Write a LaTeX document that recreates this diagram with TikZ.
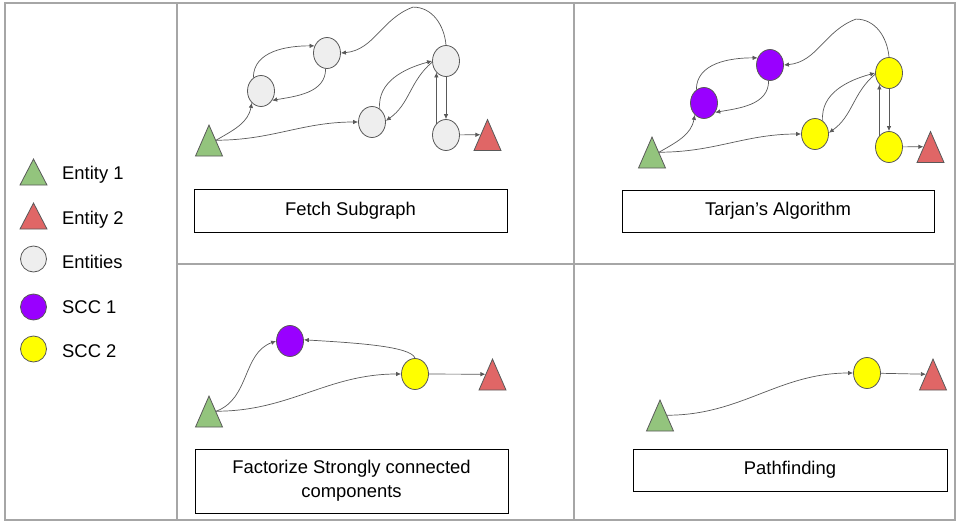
\documentclass[tikz,border=0pt]{standalone}
\usepackage{fontspec}
\setmainfont{Liberation Sans}
\usetikzlibrary{shapes.geometric,arrows.meta}

\definecolor{framegray}{HTML}{A6A6A6}
\definecolor{edgegray}{HTML}{595959}
\definecolor{entgray}{HTML}{EEEEEE}
\definecolor{sccone}{HTML}{9900FF}
\definecolor{scctwo}{HTML}{FFFF00}
\definecolor{entone}{HTML}{93C47D}
\definecolor{enttwo}{HTML}{E06666}

\tikzset{
  tri/.style={isosceles triangle, isosceles triangle stretches, shape border rotate=90, anchor=apex,
    minimum width=27pt, minimum height=31pt, inner sep=0pt, draw=edgegray, line width=0.8pt},
  blob/.style={ellipse, minimum width=27pt, minimum height=31pt, inner sep=0pt, draw=edgegray, line width=0.8pt},
  entdot/.style={circle, minimum size=26pt, inner sep=0pt, draw=edgegray, line width=0.8pt},
  conn/.style={draw=edgegray, line width=0.7pt, -{Latex[length=5pt,width=4.5pt]}},
  capbox/.style={draw, line width=1pt, minimum width=313pt, align=center},
  legtext/.style={anchor=base west, inner sep=0pt}
}

\begin{document}
\begin{tikzpicture}[x=1pt,y=1pt,font=\fontsize{18.4}{24}\selectfont]
\useasboundingbox (0,0) rectangle (960,-524);
\draw[framegray,line width=1.2pt] (5,-3) rectangle (955,-520);
\draw[framegray,line width=1.2pt] (177,-3) -- (177,-520) (574,-3) -- (574,-520) (177,-264) -- (955,-264);

\node[tri,fill=entone,minimum height=26pt] (leg1) at (33.5,-158) {};
\node[tri,fill=enttwo,minimum height=26pt] (leg2) at (33.5,-202) {};
\node[entdot,fill=entgray] (leg3) at (33.5,-259) {};
\node[entdot,fill=sccone] (leg4) at (33.5,-307) {};
\node[entdot,fill=scctwo] (leg5) at (33.5,-349) {};
\node[legtext] at (62,-179.3) {Entity 1};
\node[legtext] at (62,-224) {Entity 2};
\node[legtext] at (62,-268.3) {Entities};
\node[legtext] at (62,-313.3) {SCC 1};
\node[legtext] at (62,-357.3) {SCC 2};

\foreach \p/\dx/\dy/\ca/\cb in {1/0/0/entgray/entgray, 2/443/-12/sccone/scctwo}{
\begin{scope}[shift={(\dx,\dy)}]
\node[tri,fill=entone] (g\p) at (209,-124) {};
\node[blob,fill=\ca] (a\p) at (261,-91) {};
\node[blob,fill=\ca] (b\p) at (327,-53) {};
\node[blob,fill=\cb] (c\p) at (372,-122) {};
\node[blob,fill=\cb] (d\p) at (446,-61) {};
\node[blob,fill=\cb] (e\p) at (446,-135) {};
\node[tri,fill=enttwo] (r\p) at (487.5,-118.5) {};
\draw[conn] (g\p.right side) to[out=30,in=-100] (a\p.232);
\draw[conn] (g\p.right side) to[out=0,in=180] (c\p.west);
\draw[conn] (a\p.120) to[out=90,in=180] (b\p.150);
\draw[conn] (b\p.265) to[out=-90,in=10] (a\p.-40);
\draw[conn] (d\p.north) to[out=95,in=0] +(-33,38) to[out=200,in=5] (b\p.east);
\draw[conn] (c\p.60) to[out=95,in=195] (d\p.west);
\draw[conn] (d\p.185) to[out=220,in=35] (c\p.5);
\draw[conn] (e\p.130) -- (d\p.230);
\draw[conn] (d\p.south) -- (e\p.north);
\draw[conn] (e\p) -- (r\p.left side);
\end{scope}}
\node[capbox,minimum height=43pt] (fetch) at (350.5,-210.5) {Fetch Subgraph};
\node[capbox,minimum height=42pt,minimum width=312pt] (tarjan) at (778,-211) {Tarjan’s Algorithm};

\node[tri,fill=entone] (g3) at (209,-395) {};
\node[blob,fill=sccone] (p3) at (290,-341) {};
\node[blob,fill=scctwo] (y3) at (415,-374) {};
\node[tri,fill=enttwo] (r3) at (492.5,-358) {};
\draw[conn] (g3.right side) to[out=20,in=200] (p3.west);
\draw[conn] (g3.right side) to[out=0,in=180] (y3.west);
\draw[conn] (y3.north) .. controls +(-4,12) and +(50,-3) .. (p3.5);
\draw[conn] (y3) -- (r3.left side);
\node[capbox,minimum height=64pt] (factor) at (351.5,-481) {Factorize Strongly connected\\components};

\node[tri,fill=entone] (g4) at (660,-399) {};
\node[blob,fill=scctwo] (y4) at (867,-373) {};
\node[tri,fill=enttwo] (r4) at (933,-358) {};
\draw[conn] (g4.right side) to[out=0,in=180] (y4.west);
\draw[conn] (y4) -- (r4.left side);
\node[capbox,minimum height=42pt,minimum width=314pt] (path) at (790,-470) {Pathfinding};
\end{tikzpicture}
\end{document}
